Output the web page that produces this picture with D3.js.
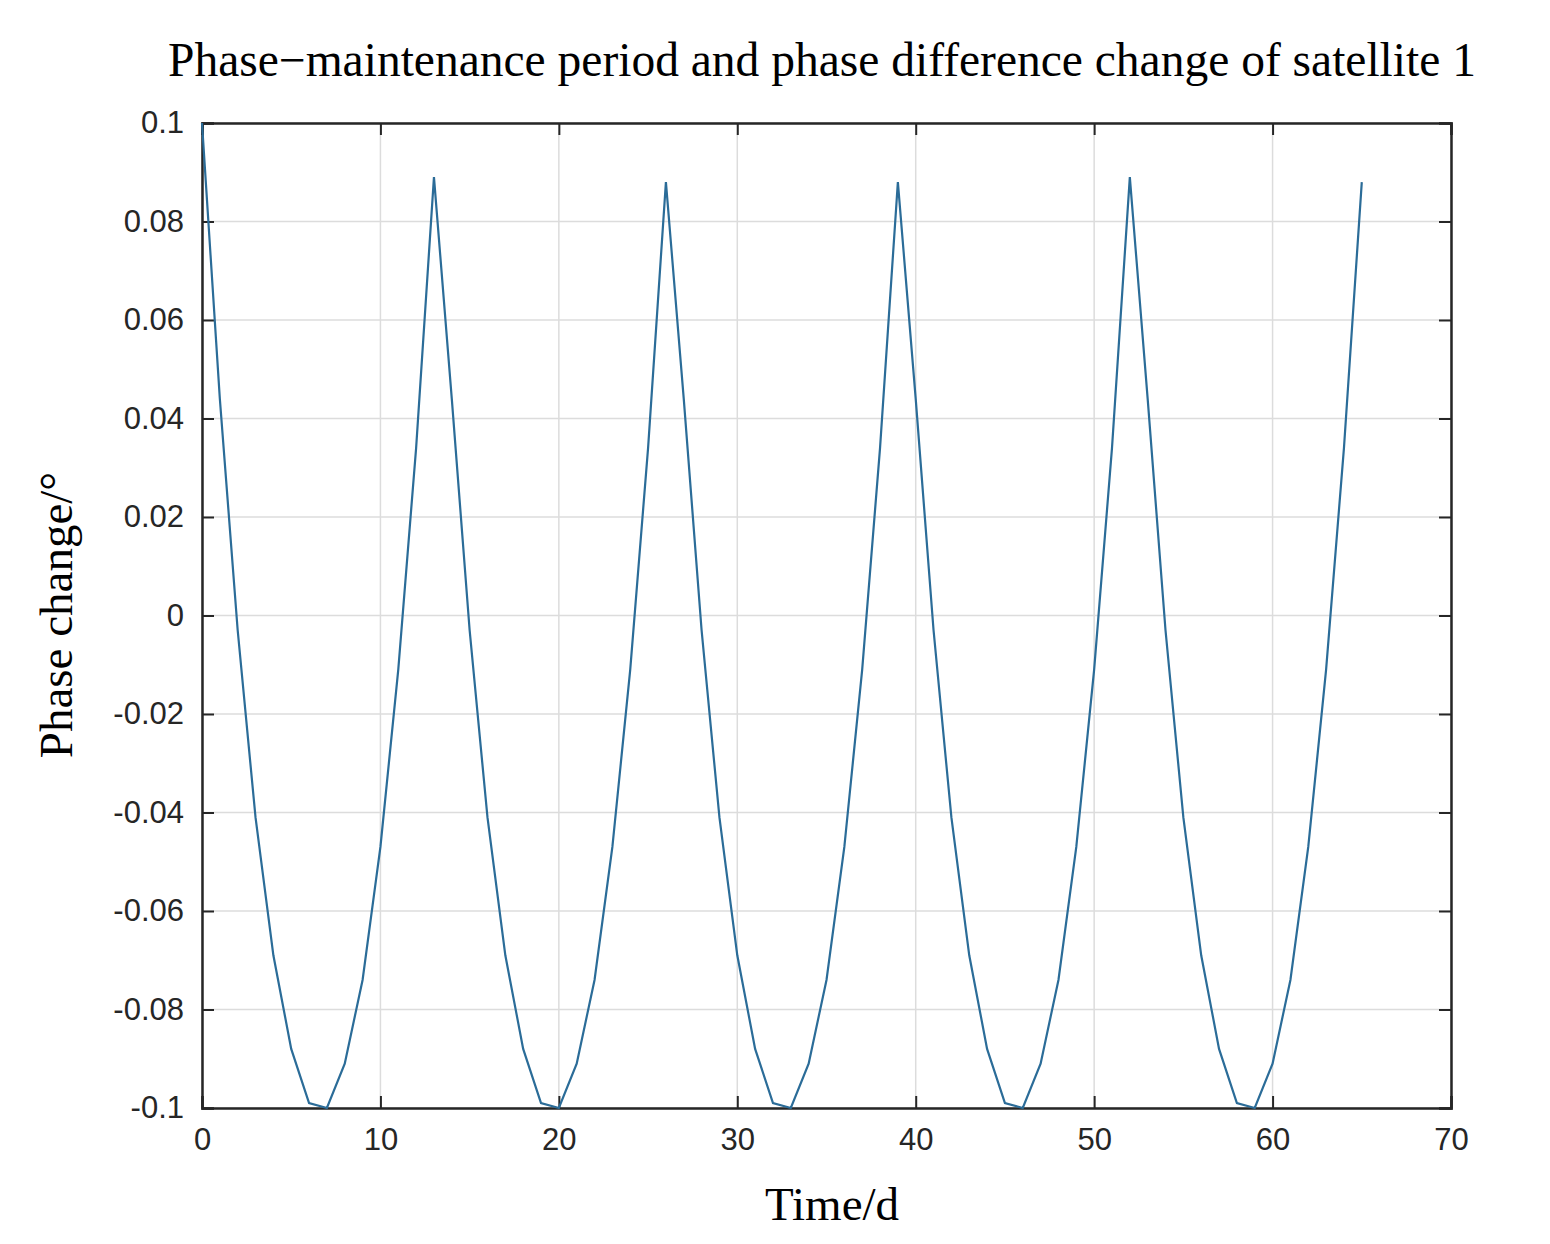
<!DOCTYPE html>
<html><head><meta charset="utf-8">
<script src="https://cdn.jsdelivr.net/npm/d3@7"></script>
<style>body{margin:0;background:#fff}</style></head>
<body><svg id="c" width="1550" height="1244"></svg>
<script>
const days = d3.range(0, 66);
const phase = [
 0.100, 0.044,-0.003,-0.041,-0.069,-0.088,-0.099,-0.100,-0.091,-0.074,-0.047,-0.011, 0.034,
 0.089, 0.044,-0.003,-0.041,-0.069,-0.088,-0.099,-0.100,-0.091,-0.074,-0.047,-0.011, 0.034,
 0.088, 0.044,-0.003,-0.041,-0.069,-0.088,-0.099,-0.100,-0.091,-0.074,-0.047,-0.011, 0.034,
 0.088, 0.044,-0.003,-0.041,-0.069,-0.088,-0.099,-0.100,-0.091,-0.074,-0.047,-0.011, 0.034,
 0.089, 0.044,-0.003,-0.041,-0.069,-0.088,-0.099,-0.100,-0.091,-0.074,-0.047,-0.011, 0.034,
 0.088];
const xTicks = [0,10,20,30,40,50,60,70];
const yTicks = [-0.1,-0.08,-0.06,-0.04,-0.02,0,0.02,0.04,0.06,0.08,0.1];
const yLabels = ["-0.1","-0.08","-0.06","-0.04","-0.02","0","0.02","0.04","0.06","0.08","0.1"];

const L=202,R=1451,T=123,B=1108;
const svg=d3.select("#c");
const x=d3.scaleLinear().domain([0,70]).range([L,R]);
const y=d3.scaleLinear().domain([-0.1,0.1]).range([B,T]);
const g=svg.append("g");
g.selectAll(".gx").data(xTicks).join("line").attr("x1",d=>x(d)).attr("x2",d=>x(d)).attr("y1",T).attr("y2",B).attr("stroke","#dcdcdc").attr("stroke-width",1.5);
g.selectAll(".gy").data(yTicks).join("line").attr("y1",d=>y(d)).attr("y2",d=>y(d)).attr("x1",L).attr("x2",R).attr("stroke","#dcdcdc").attr("stroke-width",1.5);
const xa=svg.append("g").attr("transform",`translate(0,${B})`).call(d3.axisBottom(x).tickValues(xTicks).tickSize(-12).tickPadding(20).tickFormat(d3.format("d")));
const xt=svg.append("g").attr("transform",`translate(0,${T})`).call(d3.axisTop(x).tickValues(xTicks).tickSize(-12).tickFormat(""));
const ya=svg.append("g").attr("transform",`translate(${L},0)`).call(d3.axisLeft(y).tickValues(yTicks).tickSize(-12).tickPadding(18).tickFormat((d,i)=>yLabels[i]));
const yr=svg.append("g").attr("transform",`translate(${R},0)`).call(d3.axisRight(y).tickValues(yTicks).tickSize(-12).tickFormat(""));
[xa,xt,ya,yr].forEach(a=>{a.select(".domain").attr("stroke","#262626").attr("stroke-width",2.5);a.selectAll(".tick line").attr("stroke","#262626").attr("stroke-width",2);a.selectAll("text").attr("font-family","Liberation Sans, Arial, sans-serif").attr("font-size",31).attr("fill","#262626");});
svg.append("path").datum(days.map((d,i)=>[d,phase[i]])).attr("fill","none").attr("stroke","#2b6c98").attr("stroke-width",2.2)
 .attr("d",d3.line().x(d=>x(d[0])).y(d=>y(d[1])));
svg.append("text").attr("x",822).attr("y",76).attr("text-anchor","middle").attr("font-family","Liberation Serif, Times New Roman, serif").attr("font-size",47.5).text("Phase\u2212maintenance period and phase difference change of satellite 1");
svg.append("text").attr("x",832).attr("y",1220).attr("text-anchor","middle").attr("font-family","Liberation Serif, Times New Roman, serif").attr("font-size",47).text("Time/d");
svg.append("text").attr("transform","translate(72,615) rotate(-90)").attr("text-anchor","middle").attr("font-family","Liberation Serif, Times New Roman, serif").attr("font-size",47).text("Phase change/\u00b0");
</script></body></html>
